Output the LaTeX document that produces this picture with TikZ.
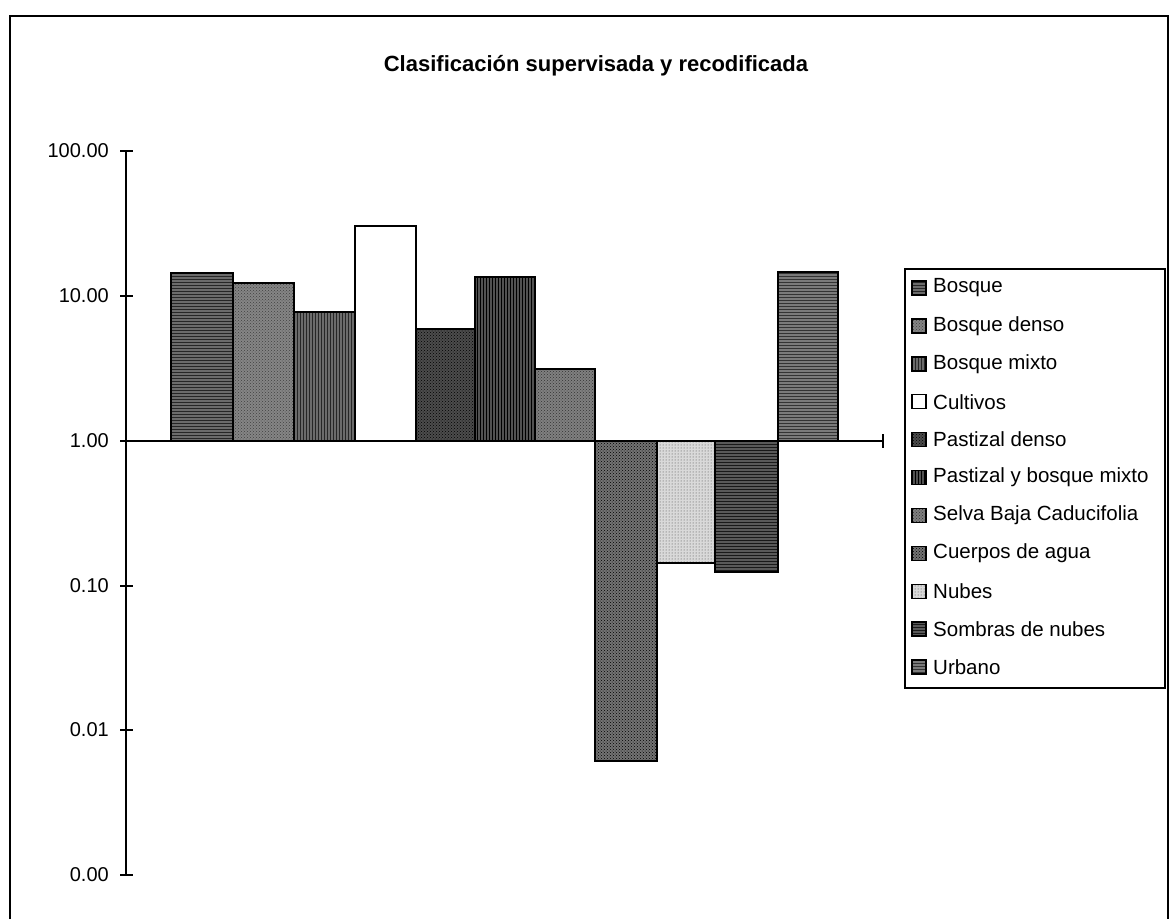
\documentclass[tikz,border=0pt]{standalone}
\usepackage{fontspec}
\setmainfont{Liberation Sans}
\usetikzlibrary{patterns}
\begin{document}
\begin{tikzpicture}[x=1pt,y=-1pt,
  barline/.style={draw=black,line width=2.4pt},
  fbosque/.style={preaction={fill=black!58},pattern=horizontal lines,pattern color=black!85},
  fbdenso/.style={preaction={fill=black!48},pattern=crosshatch dots,pattern color=black!75},
  fbmixto/.style={preaction={fill=black!58},pattern=vertical lines,pattern color=black!85},
  fcultivos/.style={fill=white},
  fpdenso/.style={preaction={fill=black!70},pattern=crosshatch dots,pattern color=black},
  fpybm/.style={preaction={fill=black!68},pattern=vertical lines,pattern color=black},
  fselva/.style={preaction={fill=black!50},pattern=crosshatch dots,pattern color=black!80},
  fcuerpos/.style={preaction={fill=black!55},pattern=crosshatch dots,pattern color=black},
  fnubes/.style={preaction={fill=black!15},pattern=dots,pattern color=black!75},
  fsombras/.style={preaction={fill=black!65},pattern=horizontal lines,pattern color=black!90},
  furbano/.style={preaction={fill=black!52},pattern=horizontal lines,pattern color=black!80},
  ticklab/.style={anchor=east,inner sep=0pt,font=\fontsize{20}{24}\selectfont},
  legtext/.style={anchor=west,inner sep=0pt,font=\fontsize{20.5}{24}\selectfont},
  swatch/.style={draw=black,line width=1.4pt,minimum size=14pt,inner sep=0pt},
  axisline/.style={draw=black,line width=1.6pt}
]
\useasboundingbox (0,0) rectangle (1172,919);
\fill[white] (0,0) rectangle (1172,919);
% chart frame
\draw[line width=2.2pt] (10,919) -- (10,16) -- (1168,16) -- (1168,919);
% title
\node[font=\fontsize{22}{26}\selectfont\bfseries,inner sep=0pt] (title) at (596,66) {Clasificación supervisada y recodificada};
% bars
\path[fbosque,barline]   (171,441) rectangle (233,273);
\path[fbdenso,barline]   (233,441) rectangle (294,283);
\path[fbmixto,barline]   (294,441) rectangle (355,312);
\path[fcultivos,barline] (355,441) rectangle (416,226);
\path[fpdenso,barline]   (416,441) rectangle (475,329);
\path[fpybm,barline]     (475,441) rectangle (535,277);
\path[fselva,barline]    (535,441) rectangle (595,369);
\path[fcuerpos,barline]  (595,441) rectangle (657,761);
\path[fnubes,barline]    (657,441) rectangle (715,563);
\path[fsombras,barline]  (715,441) rectangle (778,572);
\path[furbano,barline]   (778,441) rectangle (838,272);
% axes
\coordinate (ytop) at (126,151);
\coordinate (ybot) at (126,875);
\coordinate (xleft) at (126,441);
\coordinate (xright) at (883,441);
\draw[axisline] (ytop) -- (ybot);
\draw[axisline] (xleft) -- (xright);
\draw[axisline] (883,434) -- (883,448);
\foreach \yy/\lab/\nm in {151/100.00/a,296/10.00/b,441/1.00/c,586/0.10/d,730/0.01/e,875/0.00/f}{
  \draw[axisline] (120,\yy) -- (133,\yy);
  \node[ticklab] (tl\nm) at (109,\yy) {\lab};
}
% legend
\node[draw=black,line width=1.6pt,minimum width=260pt,minimum height=419pt,inner sep=0pt,anchor=north west] (legend) at (904,268) {};
\foreach \i/\sty/\lab in {0/fbosque/Bosque,1/fbdenso/Bosque denso,2/fbmixto/Bosque mixto,3/fcultivos/Cultivos,4/fpdenso/Pastizal denso,5/fpybm/Pastizal y bosque mixto,6/fselva/Selva Baja Caducifolia,7/fcuerpos/Cuerpos de agua,8/fnubes/Nubes,9/fsombras/Sombras de nubes,10/furbano/Urbano}{
  \node[swatch,\sty] (sw\i) at (919,288+37.9*\i) {};
  \node[legtext] (lt\i) at (933,288+37.9*\i) {\lab};
}
\end{tikzpicture}
\end{document}
